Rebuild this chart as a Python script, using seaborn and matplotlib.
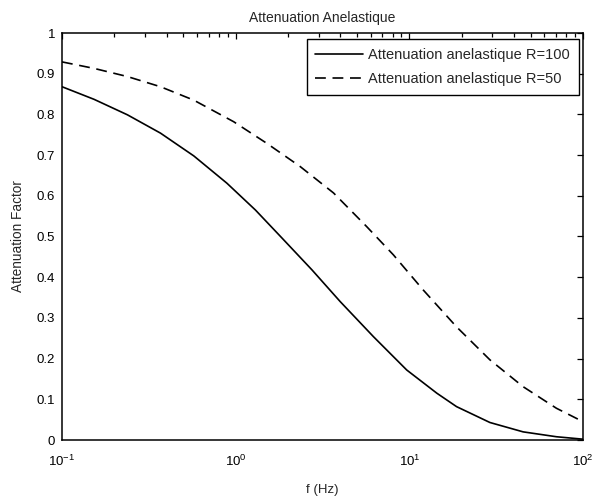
import numpy as np
import pandas as pd
import matplotlib
matplotlib.use("Agg")
import matplotlib.pyplot as plt
from matplotlib.ticker import LogLocator, NullFormatter
import seaborn as sns

# Attenuation factor vs frequency, R = 100 (solid curve)
freq_r100 = [0.1, 0.153, 0.238, 0.369, 0.574, 0.89, 1.30, 1.85, 2.75, 4.0, 6.21,
             9.66, 14.4, 18.7, 29.1, 45.2, 70.3, 100.0]
atten_r100 = [0.868, 0.837, 0.799, 0.754, 0.698, 0.631, 0.565, 0.496, 0.418, 0.340, 0.254,
              0.172, 0.115, 0.082, 0.043, 0.020, 0.008, 0.002]

# Attenuation factor vs frequency, R = 50 (dashed curve)
freq_r50 = [0.1, 0.153, 0.238, 0.369, 0.574, 0.974, 1.51, 2.35, 3.66, 5.69,
            8.09, 12.0, 18.7, 29.1, 45.2, 70.3, 100.0]
atten_r50 = [0.929, 0.913, 0.893, 0.868, 0.835, 0.782, 0.729, 0.672, 0.607, 0.524,
             0.455, 0.369, 0.278, 0.197, 0.131, 0.078, 0.045]

labels = ["Attenuation anelastique R=100", "Attenuation anelastique R=50"]
y_ticks = [0, 0.1, 0.2, 0.3, 0.4, 0.5, 0.6, 0.7, 0.8, 0.9, 1]
y_tick_labels = ["0", "0.1", "0.2", "0.3", "0.4", "0.5", "0.6", "0.7", "0.8", "0.9", "1"]

sns.set_style("white")
plt.rcParams["font.family"] = ["Liberation Sans", "DejaVu Sans"]
plt.rcParams["mathtext.fontset"] = "custom"
plt.rcParams["mathtext.rm"] = "Liberation Sans"

df_a = pd.DataFrame({"f": freq_r100, "A": atten_r100})
df_b = pd.DataFrame({"f": freq_r50, "A": atten_r50})

fig = plt.figure(figsize=(5.95, 4.98), dpi=100)
ax = fig.add_axes([62 / 595, 58 / 498, 521 / 595, 407 / 498])

sns.lineplot(data=df_a, x="f", y="A", ax=ax, color="black", lw=1.2,
             label=labels[0], estimator=None, sort=False)
sns.lineplot(data=df_b, x="f", y="A", ax=ax, color="black", lw=1.2,
             label=labels[1], estimator=None, sort=False)
ax.lines[1].set_dashes((6.5, 4))

ax.set_xscale("log")
ax.set_xlim(0.1, 100)
ax.set_ylim(0, 1)
ax.xaxis.set_minor_locator(LogLocator(base=10, subs=np.arange(2, 10)))
ax.xaxis.set_minor_formatter(NullFormatter())
ax.set_yticks(y_ticks)
ax.set_yticklabels(y_tick_labels)

for side in ax.spines.values():
    side.set_visible(True)
    side.set_color("black")
    side.set_linewidth(1.1)

ax.tick_params(which="both", direction="in", top=True, right=True,
               colors="black", labelsize=9.5)
ax.tick_params(which="major", length=4.5, width=0.9)
ax.tick_params(which="minor", length=3, width=0.9)
ax.tick_params(axis="x", pad=10)
ax.tick_params(axis="y", pad=5)

ax.set_xlabel("f (Hz)", fontsize=9.5, labelpad=11)
ax.set_ylabel("Attenuation Factor", fontsize=9.8, labelpad=8)
ax.set_title("Attenuation Anelastique", fontsize=10, pad=8)

leg = ax.legend(loc="upper right", bbox_to_anchor=(0.9923, 0.9853),
                borderaxespad=0, fontsize=10.5, frameon=True, fancybox=False,
                edgecolor="black", framealpha=1, handlelength=3.3,
                handletextpad=0.35, borderpad=0.6, labelspacing=0.72)
leg.get_frame().set_linewidth(1.0)

fig.savefig("out.png", dpi=100, facecolor="white")
